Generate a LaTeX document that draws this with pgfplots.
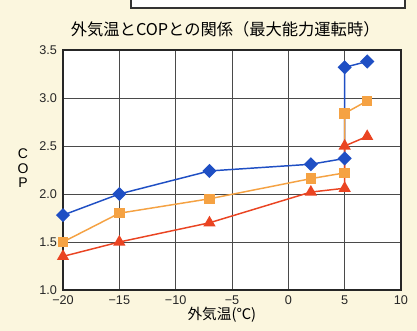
\documentclass[border=0pt]{standalone}
\usepackage{pgfplots}
\pgfplotsset{compat=1.18}
\usepackage{fontspec}
\setmainfont{Liberation Sans}
\newfontfamily\jp{Noto Sans CJK JP}
\definecolor{bg}{HTML}{FBF6DE}
\definecolor{cblue}{HTML}{1F4FC4}
\definecolor{corange}{HTML}{F5A243}
\definecolor{cred}{HTML}{EA4422}
\definecolor{gridc}{HTML}{4A4A4A}
\begin{document}
\begin{tikzpicture}
\fill[bg] (0,0) rectangle (312.75pt,248.25pt);
\clip (0,0) rectangle (312.75pt,248.25pt);
% top of a cropped legend box
\draw[fill=white, line width=0.8pt, draw=black!80] (98.25pt,242.25pt) rectangle (303.75pt,260pt);
\begin{axis}[
    at={(47.25pt,30.75pt)}, anchor=south west,
    scale only axis, width=253.5pt, height=180pt,
    xmin=-20, xmax=10, ymin=1.0, ymax=3.5,
    xtick={-20,-15,...,10}, ytick={1.0,1.5,...,3.5},
    xticklabels={−20,−15,−10,−5,0,5,10},
    yticklabels={1.0,1.5,2.0,2.5,3.0,3.5},
    tick label style={font=\fontsize{9.5pt}{10pt}\selectfont, text=black!85},
    xticklabel style={yshift=-0.5pt},
    yticklabel style={xshift=-1pt},
    major tick length=0pt,
    grid=major, major grid style={gridc, line width=0.7pt},
    axis line style={black!85, line width=0.9pt},
    axis background/.style={fill=white},
    title={\jp\fontsize{12.2pt}{14pt}\selectfont 外気温とCOPとの関係（最大能力運転時）},
    title style={at={(axis description cs:0.48,1)}, anchor=south, yshift=0pt},
    xlabel={\jp\fontsize{11pt}{12pt}\selectfont 外気温(℃)},
    xlabel style={at={(axis description cs:0.47,0)}, anchor=north, yshift=-9.5pt},
    ylabel={\fontsize{10.5pt}{11.5pt}\selectfont\begin{tabular}{@{}c@{}}C\\[-0.5pt]O\\[-0.5pt]P\end{tabular}},
    ylabel style={rotate=-90, at={(axis description cs:0,0.5)}, anchor=center, xshift=-30pt},
    clip=false,
]
\addplot[cblue, line width=1.1pt, mark=square*, mark size=3.2pt, mark options={rotate=45}]
  coordinates {(-20,1.78)(-15,2.00)(-7,2.24)(2,2.31)(5,2.37)(5,3.32)(7,3.38)};
\addplot[corange, line width=1.1pt, mark=square*, mark size=3.4pt]
  coordinates {(-20,1.50)(-15,1.80)(-7,1.95)(2,2.16)(5,2.22)(5,2.84)(7,2.97)};
\addplot[cred, line width=1.1pt, mark=triangle*, mark size=4.2pt]
  coordinates {(-20,1.35)(-15,1.50)(-7,1.70)(2,2.02)(5,2.06)(5,2.50)(7,2.60)};
\end{axis}
\end{tikzpicture}
\end{document}
